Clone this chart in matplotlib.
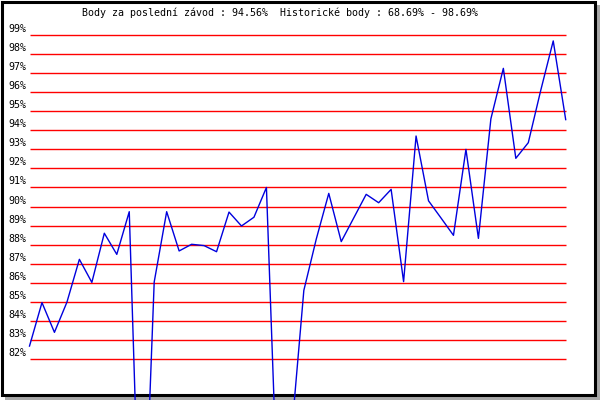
import matplotlib
matplotlib.use("Agg")
import matplotlib.pyplot as plt
from matplotlib.patches import Rectangle
from matplotlib.transforms import blended_transform_factory

# points per race (in %)
body = [82.68, 84.96, 83.40, 84.98, 87.23, 86.02, 88.60, 87.49, 89.73, 68.69,
        86.04, 89.73, 87.67, 88.02, 87.95, 87.63, 89.71, 88.98, 89.44, 91.00,
        72.60, 78.00, 85.60, 88.30, 90.69, 88.16, 89.40, 90.64, 90.20, 90.90,
        86.06, 93.70, 90.30, 89.40, 88.49, 93.00, 88.33, 94.60, 97.25, 92.53,
        93.35, 96.10, 98.69, 94.56]
urovne = list(range(82, 100))
titulek = "Body za poslední závod : 94.56%  Historické body : 68.69% - 98.69%"

W, H = 600, 400
fig = plt.figure(figsize=(6, 4), dpi=100)
fig.patch.set_facecolor("white")

# shadow + black frame (behind the axes)
gray = "#a8a8a8"
fig.patches.append(Rectangle((596 / W, 0), 4 / W, 395 / H, transform=fig.transFigure,
                             facecolor=gray, edgecolor="none", zorder=-2))
fig.patches.append(Rectangle((5 / W, 0), 595 / W, 4 / H, transform=fig.transFigure,
                             facecolor=gray, edgecolor="none", zorder=-2))
fig.patches.append(Rectangle((1.5 / W, 5.5 / H), 593 / W, 393 / H, transform=fig.transFigure,
                             facecolor="none", edgecolor="black", linewidth=2.2, zorder=-1))

ax = fig.add_axes([0, 0, 1, 1])
ax.set_axis_off()
ax.patch.set_alpha(0)

# pixel mapping: index 0 -> x 29.5, index 43 -> x 565.7; 99% -> y 35, 19.06 px per %
dx = (565.7 - 29.5) / (len(body) - 1)
dy = 19.06
ax.set_xlim(-29.5 / dx, (W - 29.5) / dx)
ax.set_ylim(99 - (H - 35) / dy, 99 + 35 / dy)

ax.hlines(urovne, 0, len(body) - 1, colors="#ff0000", linewidth=1.0, zorder=2)
ax.plot(range(len(body)), body, color="#0000dd", linewidth=1.0, zorder=3, clip_on=False)

trans = blended_transform_factory(fig.transFigure, ax.transData)
for u in urovne:
    ax.text(8 / W, u + 6 / dy, f"{u}%", transform=trans, ha="left", va="center",
            family="DejaVu Sans Mono", fontsize=7.2, color="black")

fig.text(82 / W, 1 - 13 / H, titulek, ha="left", va="center",
         family="DejaVu Sans Mono", fontsize=7.2, color="black")

fig.savefig("out.png", dpi=100)
